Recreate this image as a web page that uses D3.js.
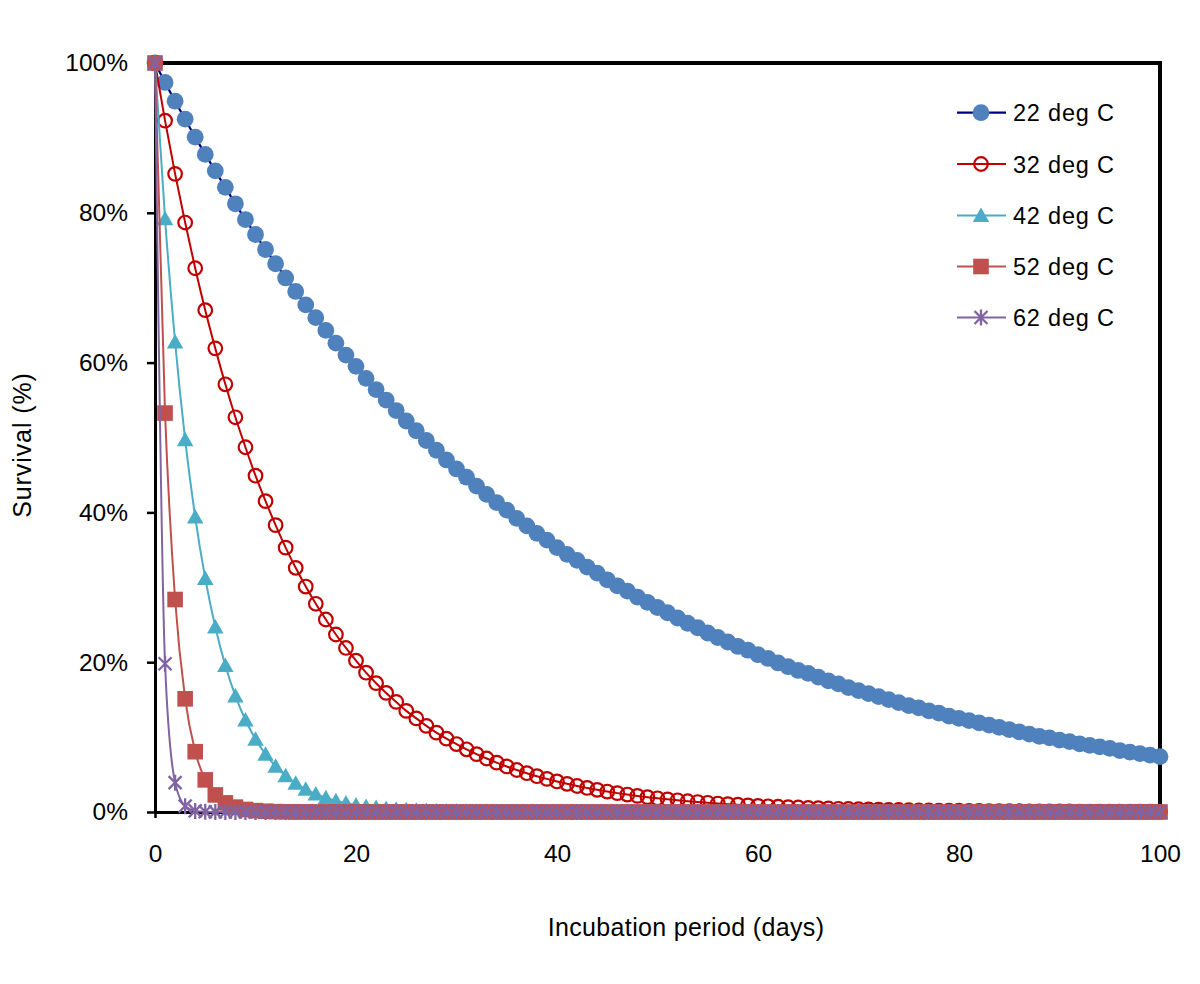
<!DOCTYPE html>
<html>
<head>
<meta charset="utf-8">
<script src="https://cdn.jsdelivr.net/npm/d3@7"></script>
<style>
  html, body { margin: 0; padding: 0; background: #fff; }
  svg { display: block; font-family: "Liberation Sans", Arial, sans-serif; }
</style>
</head>
<body>
<svg id="chart" width="1200" height="984"></svg>
<script>
// ---------- DATA ----------
const days = [
  0,1,2,3,4,5,6,7,8,9,
  10,11,12,13,14,15,16,17,18,19,
  20,21,22,23,24,25,26,27,28,29,
  30,31,32,33,34,35,36,37,38,39,
  40,41,42,43,44,45,46,47,48,49,
  50,51,52,53,54,55,56,57,58,59,
  60,61,62,63,64,65,66,67,68,69,
  70,71,72,73,74,75,76,77,78,79,
  80,81,82,83,84,85,86,87,88,89,
  90,91,92,93,94,95,96,97,98,99,
  100];

const s22 = [
  100,97.4,94.9,92.5,90.1,87.8,85.6,83.4,81.2,79.1,
  77.1,75.1,73.2,71.3,69.5,67.7,66.0,64.3,62.6,61.0,
  59.5,57.9,56.4,55.0,53.6,52.2,50.9,49.6,48.3,47.0,
  45.8,44.7,43.5,42.4,41.3,40.3,39.2,38.2,37.2,36.3,
  35.3,34.4,33.6,32.7,31.9,31.0,30.2,29.5,28.7,28.0,
  27.3,26.6,25.9,25.2,24.6,23.9,23.3,22.7,22.1,21.6,
  21.0,20.5,19.9,19.4,18.9,18.5,18.0,17.5,17.1,16.6,
  16.2,15.8,15.4,15.0,14.6,14.2,13.9,13.5,13.2,12.8,
  12.5,12.2,11.9,11.6,11.3,11.0,10.7,10.4,10.1,9.9,
  9.6,9.4,9.1,8.9,8.7,8.5,8.2,8.0,7.8,7.6,
  7.4];

const s32 = [
  100,92.3,85.2,78.7,72.6,67.0,61.9,57.1,52.7,48.7,
  44.9,41.5,38.3,35.3,32.6,30.1,27.8,25.7,23.7,21.9,
  20.2,18.6,17.2,15.9,14.7,13.5,12.5,11.5,10.6,9.8,
  9.07,8.37,7.73,7.14,6.59,6.08,5.61,5.18,4.78,4.42,
  4.08,3.76,3.47,3.21,2.96,2.73,2.52,2.33,2.15,1.98,
  1.83,1.69,1.56,1.44,1.33,1.23,1.13,1.05,0.97,0.89,
  0.82,0.76,0.70,0.65,0.60,0.55,0.51,0.47,0.43,0.40,
  0.37,0.34,0.32,0.29,0.27,0.25,0.23,0.21,0.19,0.18,
  0.17,0.15,0.14,0.13,0.12,0.11,0.10,0.09,0.09,0.08,
  0.07,0.07,0.06,0.06,0.05,0.05,0.05,0.04,0.04,0.04,
  0.03];

const s42 = [
  100,79.2,62.75,49.71,39.38,31.19,24.71,19.57,15.50,12.28,
  9.73,7.71,6.11,4.84,3.83,3.03,2.40,1.90,1.51,1.20,
  0.95,0.75,0.59,0.47,0.37,0.30,0.23,0.19,0.15,0.12,
  0.09,0.07,0.06,0.05,0.04,0.03,0.02,0.02,0.01,0.01,
  0.01,0.01,0.01,0,0,0,0,0,0,0,
  0,0,0,0,0,0,0,0,0,0,
  0,0,0,0,0,0,0,0,0,0,
  0,0,0,0,0,0,0,0,0,0,
  0,0,0,0,0,0,0,0,0,0,
  0,0,0,0,0,0,0,0,0,0,
  0];

const s52 = [
  100,53.26,28.37,15.11,8.05,4.29,2.28,1.22,0.65,0.34,
  0.18,0.10,0.05,0.03,0.01,0.01,0,0,0,0,
  0,0,0,0,0,0,0,0,0,0,
  0,0,0,0,0,0,0,0,0,0,
  0,0,0,0,0,0,0,0,0,0,
  0,0,0,0,0,0,0,0,0,0,
  0,0,0,0,0,0,0,0,0,0,
  0,0,0,0,0,0,0,0,0,0,
  0,0,0,0,0,0,0,0,0,0,
  0,0,0,0,0,0,0,0,0,0,
  0];

const s62 = [
  100,19.79,3.92,0.78,0.15,0.03,0.01,0,0,0,
  0,0,0,0,0,0,0,0,0,0,
  0,0,0,0,0,0,0,0,0,0,
  0,0,0,0,0,0,0,0,0,0,
  0,0,0,0,0,0,0,0,0,0,
  0,0,0,0,0,0,0,0,0,0,
  0,0,0,0,0,0,0,0,0,0,
  0,0,0,0,0,0,0,0,0,0,
  0,0,0,0,0,0,0,0,0,0,
  0,0,0,0,0,0,0,0,0,0,
  0];

const seriesNames = ["22 deg C", "32 deg C", "42 deg C", "52 deg C", "62 deg C"];
const seriesValues = [s22, s32, s42, s52, s62];
const yTicks = [0, 20, 40, 60, 80, 100];
const xTicks = [0, 20, 40, 60, 80, 100];
const xTitle = "Incubation period (days)";
const yTitle = "Survival (%)";

// ---------- STYLES ----------
const styles = [
  { line: "#000080", lw: 2.2, marker: "circle",  fill: "#4F81BD" },
  { line: "#C00000", lw: 2,   marker: "ocircle", fill: "#C00000" },
  { line: "#4BACC6", lw: 2,   marker: "triangle", fill: "#4BACC6" },
  { line: "#C0504D", lw: 2,   marker: "square",  fill: "#C0504D" },
  { line: "#8064A2", lw: 2,   marker: "star",    fill: "#8064A2" }
];

// ---------- SCALES ----------
const svg = d3.select("#chart");
const x = d3.scaleLinear().domain([0, 100]).range([155, 1160]);
const y = d3.scaleLinear().domain([0, 100]).range([812, 63]);

svg.append("rect").attr("width", 1200).attr("height", 984).attr("fill", "#fff");

// frame (top/right)
svg.append("line").attr("x1", x(0)).attr("x2", x(100) + 2).attr("y1", y(100)).attr("y2", y(100))
  .attr("stroke", "#000").attr("stroke-width", 4);
svg.append("line").attr("x1", x(100)).attr("x2", x(100)).attr("y1", y(100)).attr("y2", y(0))
  .attr("stroke", "#000").attr("stroke-width", 4);

// axes
const yAxis = d3.axisLeft(y).tickValues(yTicks).tickFormat(d => d + "%")
  .tickSize(8).tickSizeOuter(0).tickPadding(19);
const gy = svg.append("g").attr("transform", `translate(${x(0)},0)`).call(yAxis);
const xAxis = d3.axisBottom(x).tickValues(xTicks).tickFormat(d => d)
  .tickSize(6).tickSizeOuter(0).tickPadding(27);
const gx = svg.append("g").attr("transform", `translate(0,${y(0)})`).call(xAxis);

[gx, gy].forEach(g => {
  g.select(".domain").attr("stroke", "#000").attr("stroke-width", 3);
  g.selectAll(".tick line").attr("stroke", "#000").attr("stroke-width", 2.5);
  g.selectAll(".tick text").attr("fill", "#000").style("font-size", "24.5px")
    .style("font-family", "'Liberation Sans', Arial, sans-serif");
});

// axis titles
svg.append("text").attr("x", 686).attr("y", 936).attr("text-anchor", "middle")
  .style("font-size", "25px").style("letter-spacing", "0.35px").attr("fill", "#000").text(xTitle);
svg.append("text").attr("transform", "translate(31,445) rotate(-90)").attr("text-anchor", "middle")
  .style("font-size", "25px").style("letter-spacing", "0.9px").attr("fill", "#000").text(yTitle);

// ---------- MARKERS ----------
function drawMarker(g, type, color, cx, cy) {
  if (type === "circle") {
    g.append("circle").attr("cx", cx).attr("cy", cy).attr("r", 8.4).attr("fill", color);
  } else if (type === "ocircle") {
    g.append("circle").attr("cx", cx).attr("cy", cy).attr("r", 6.8).attr("fill", "none")
      .attr("stroke", color).attr("stroke-width", 2.2);
  } else if (type === "triangle") {
    const w = 16.5, h = 14.5;
    g.append("path").attr("d", `M${cx},${cy - h * 0.55}L${cx + w / 2},${cy + h * 0.45}L${cx - w / 2},${cy + h * 0.45}Z`)
      .attr("fill", color);
  } else if (type === "square") {
    g.append("rect").attr("x", cx - 7.8).attr("y", cy - 7.8).attr("width", 15.6).attr("height", 15.6).attr("fill", color);
  } else if (type === "star") {
    const a = 6.5;
    g.append("path").attr("d",
      `M${cx - a},${cy - a}L${cx + a},${cy + a}M${cx + a},${cy - a}L${cx - a},${cy + a}M${cx},${cy - 8}L${cx},${cy + 8}`)
      .attr("stroke", color).attr("stroke-width", 2.3).attr("fill", "none");
  }
}

// ---------- SERIES ----------
const line = d3.line().x(d => x(d[0])).y(d => y(d[1])).curve(d3.curveMonotoneX);
seriesValues.forEach((vals, i) => {
  const st = styles[i];
  const pts = days.map((d, j) => [d, vals[j]]);
  const g = svg.append("g");
  g.append("path").attr("d", line(pts)).attr("fill", "none")
    .attr("stroke", st.line).attr("stroke-width", st.lw);
  pts.forEach(p => drawMarker(g, st.marker, st.fill, x(p[0]), y(p[1])));
});

// ---------- LEGEND ----------
const legendY = [112.7, 164, 215.5, 266.5, 317.5];
seriesNames.forEach((name, i) => {
  const st = styles[i];
  const g = svg.append("g");
  const ly = legendY[i];
  g.append("line").attr("x1", 957).attr("x2", 1006).attr("y1", ly).attr("y2", ly)
    .attr("stroke", st.line).attr("stroke-width", st.lw);
  drawMarker(g, st.marker, st.fill, 981, ly);
  g.append("text").attr("x", 1013).attr("y", ly + 8.5).style("font-size", "23.5px")
    .style("letter-spacing", "0.8px").attr("fill", "#000").text(name);
});
</script>
</body>
</html>
